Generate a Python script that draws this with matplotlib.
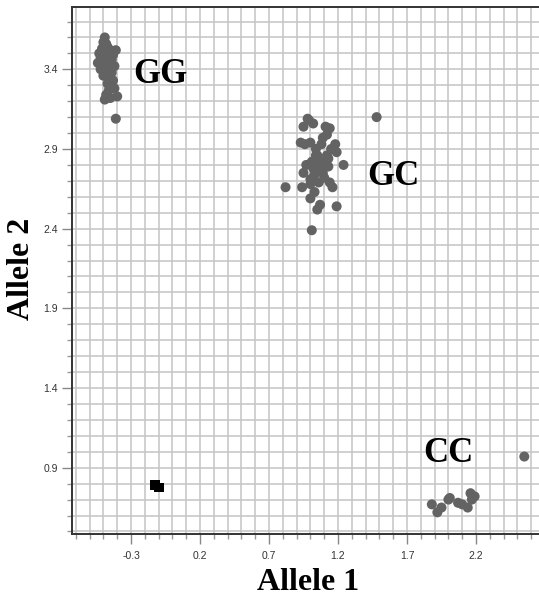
import matplotlib
matplotlib.use("Agg")
import matplotlib.pyplot as plt
import numpy as np
from matplotlib.ticker import MultipleLocator, FixedLocator

# ---- data ----
gg_x = [-0.49, -0.50, -0.48, -0.51, -0.47, -0.53, -0.49, -0.45, -0.41, -0.43, -0.52, -0.48,
        -0.44, -0.54, -0.50, -0.46, -0.42, -0.52, -0.48, -0.44, -0.50, -0.46, -0.43, -0.47,
        -0.44, -0.46, -0.42, -0.48, -0.45, -0.49, -0.40, -0.41]
gg_y = [3.60, 3.57, 3.56, 3.53, 3.54, 3.50, 3.51, 3.52, 3.52, 3.49, 3.47, 3.47,
        3.46, 3.44, 3.44, 3.43, 3.42, 3.40, 3.39, 3.38, 3.36, 3.35, 3.33, 3.31,
        3.29, 3.27, 3.28, 3.24, 3.22, 3.21, 3.23, 3.09]

gc_x = [0.98, 1.02, 0.95, 1.11, 1.14, 1.12, 0.93, 1.00, 1.18, 1.08, 1.19, 1.05, 1.12, 1.01,
        1.08, 1.24, 1.13, 1.02, 0.95, 1.09, 1.00, 1.14, 0.82, 0.94, 1.16, 1.03, 1.00, 1.07,
        1.05, 1.19, 1.01, 1.48, 1.04, 1.06, 1.10, 0.97, 1.03, 1.09, 0.96, 1.15, 1.13, 1.06,
        1.04, 1.08, 1.00, 0.99]
gc_y = [3.09, 3.06, 3.04, 3.04, 3.03, 2.99, 2.94, 2.94, 2.93, 2.93, 2.88, 2.86, 2.86, 2.82,
        2.82, 2.80, 2.79, 2.78, 2.75, 2.75, 2.71, 2.69, 2.66, 2.66, 2.66, 2.63, 2.59, 2.55,
        2.52, 2.54, 2.39, 3.10, 2.90, 2.80, 2.72, 2.80, 2.74, 2.97, 2.93, 2.90, 2.84, 2.69,
        2.86, 2.78, 2.68, 3.08]

cc_x = [1.88, 1.92, 1.95, 2.00, 2.01, 2.07, 2.10, 2.14, 2.16, 2.17, 2.19, 2.55]
cc_y = [0.67, 0.62, 0.65, 0.70, 0.71, 0.68, 0.67, 0.65, 0.74, 0.70, 0.72, 0.97]

ctrl_x = [-0.126, -0.097]
ctrl_y = [0.792, 0.774]

cluster_labels = ["GG", "GC", "CC"]
label_x = [-0.285, 1.41, 1.815]
label_y = [3.37, 2.725, 0.99]

xticks = [-0.3, 0.2, 0.7, 1.2, 1.7, 2.2]
yticks = [0.9, 1.4, 1.9, 2.4, 2.9, 3.4]

# ---- figure ----
W, H = 539, 597
fig = plt.figure(figsize=(W / 100, H / 100), dpi=100)
left_px, right_px, top_px, bot_px = 72, 545, 7, 534
ax = fig.add_axes([left_px / W, 1 - bot_px / H, (right_px - left_px) / W, (bot_px - top_px) / H])

ax.set_xlim(-0.7275, -0.3 + (right_px - 131) / 138)
ax.set_ylim(0.484, 3.791)

# grid
ax.xaxis.set_major_locator(FixedLocator(xticks))
ax.yaxis.set_major_locator(FixedLocator(yticks))
ax.xaxis.set_minor_locator(FixedLocator(np.round(np.arange(-0.7, 2.75, 0.1), 2)))
ax.yaxis.set_minor_locator(FixedLocator(np.round(np.arange(0.5, 3.8, 0.1), 2)))
ax.grid(which="both", color="#c4c4c4", linewidth=1.1, zorder=0)
ax.set_axisbelow(True)

ax.set_xticklabels([f"{t:.1f}" for t in xticks])
ax.set_yticklabels([f"{t:.1f}" for t in yticks])
for lab in ax.get_xticklabels() + ax.get_yticklabels():
    lab.set_fontfamily("Liberation Sans")
ax.tick_params(which="major", length=7, width=1, color="#888888", labelsize=7.5,
               labelcolor="#333333")
ax.tick_params(which="minor", length=3.5, width=1, color="#999999")
ax.tick_params(axis="x", which="major", pad=5)
ax.tick_params(axis="y", which="major", pad=3)

for s in ["left", "bottom", "top"]:
    ax.spines[s].set_color("#333333")
    ax.spines[s].set_linewidth(1.4)
ax.spines["right"].set_visible(False)

# points
ax.scatter(gg_x, gg_y, s=52, color="#636363", edgecolors="none", zorder=3)
ax.scatter(gc_x, gc_y, s=52, color="#636363", edgecolors="none", zorder=3)
ax.scatter(cc_x, cc_y, s=52, color="#636363", edgecolors="none", zorder=3)
ax.scatter(ctrl_x, ctrl_y, s=45, marker="s", color="#000000", edgecolors="none", zorder=3)

for t, x, y in zip(cluster_labels, label_x, label_y):
    ax.text(x, y, t, fontsize=25, fontweight="bold", family="Liberation Serif",
            ha="left", va="center", zorder=4)

fig.text(308 / W, 1 - 582 / H, "Allele 1", fontsize=23, fontweight="bold",
         family="Liberation Serif", ha="center", va="center")
fig.text(22 / W, 1 - 269 / H, "Allele 2", fontsize=23, fontweight="bold",
         family="Liberation Serif", ha="center", va="center", rotation=90)

fig.savefig("out.png", dpi=100)
